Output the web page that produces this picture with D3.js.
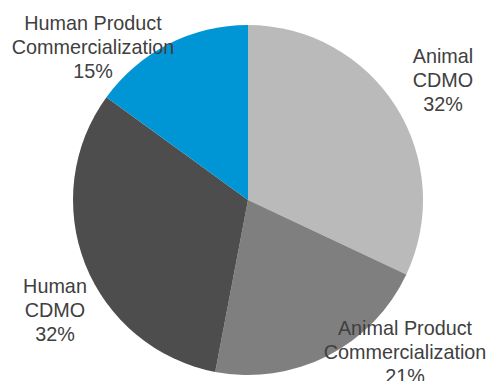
<!DOCTYPE html>
<html>
<head>
<meta charset="utf-8">
<script src="https://cdn.jsdelivr.net/npm/d3@7/dist/d3.min.js"></script>
<style>
  html, body { margin: 0; padding: 0; background: #fff; }
  svg { display: block; }
  text { font-family: "Liberation Sans", Arial, sans-serif; fill: #404040; }
</style>
</head>
<body>
<svg id="chart" width="488" height="381"></svg>
<script>
// Segment shares, clockwise from 12 o'clock
const categories = ["Animal CDMO", "Animal Product Commercialization", "Human CDMO", "Human Product Commercialization"];
const values = [32, 21, 32, 15];
const colors = ["#bababa", "#7f7f7f", "#4d4d4d", "#0096d6"];
// Label lines and anchor points for each segment
const labelLines = [
  ["Animal", "CDMO", "32%"],
  ["Animal Product", "Commercialization", "21%"],
  ["Human", "CDMO", "32%"],
  ["Human Product", "Commercialization", "15%"]
];
const labelPos = [[443, 63], [405, 335], [55, 293], [93, 30]];

const svg = d3.select("#chart");
const cx = 248, cy = 200, radius = 175;

const data = categories.map((c, i) => ({ name: c, value: values[i], color: colors[i], lines: labelLines[i], pos: labelPos[i] }));

const pie = d3.pie().value(d => d.value).sort(null).startAngle(0).endAngle(2 * Math.PI);
const arc = d3.arc().innerRadius(0).outerRadius(radius);

const g = svg.append("g").attr("transform", `translate(${cx},${cy})`);
g.selectAll("path")
  .data(pie(data))
  .join("path")
  .attr("d", arc)
  .attr("fill", d => d.data.color);

const lineH = 23.8;
const labels = svg.append("g").selectAll("text")
  .data(data)
  .join("text")
  .attr("text-anchor", "middle")
  .attr("font-size", "19.8px");

labels.each(function(d) {
  const t = d3.select(this);
  d.lines.forEach((ln, i) => {
    t.append("tspan")
      .attr("x", d.pos[0])
      .attr("y", d.pos[1] + i * lineH)
      .text(ln);
  });
});
</script>
</body>
</html>
